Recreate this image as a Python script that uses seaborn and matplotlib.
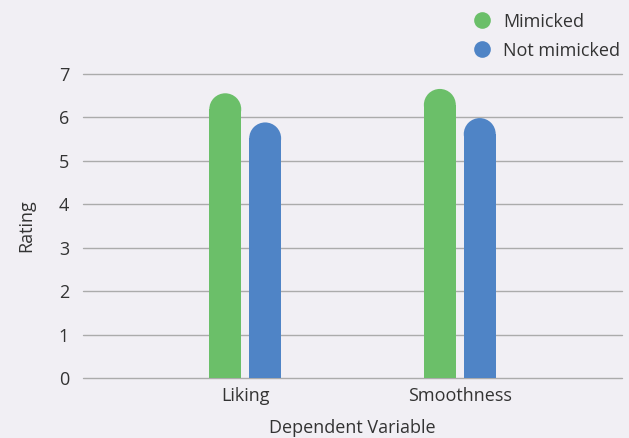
import matplotlib
matplotlib.use("Agg")
import matplotlib.pyplot as plt
from matplotlib.patches import Ellipse
from matplotlib.lines import Line2D
import seaborn as sns
import pandas as pd

# Mean ratings per dependent variable and condition
categories = ["Liking", "Smoothness"]
conditions = ["Mimicked", "Not mimicked"]
mimicked = [6.55, 6.65]
not_mimicked = [5.88, 5.98]
y_ticks = [0, 1, 2, 3, 4, 5, 6, 7]

colors = {"Mimicked": "#6bbf69", "Not mimicked": "#4f84c6"}
bg = "#f1eff4"
text_color = "#333333"
fs = 13

df = pd.DataFrame({
    "Dependent Variable": categories * 2,
    "Condition": [conditions[0]] * 2 + [conditions[1]] * 2,
    "Rating": mimicked + not_mimicked,
})

sns.set_theme(style="white")
plt.rcParams["font.family"] = ["Open Sans", "DejaVu Sans"]

fig = plt.figure(figsize=(6.29, 4.38), dpi=100, facecolor=bg)
ax = fig.add_axes([83 / 629, 1 - 378.3 / 438, (622 - 83) / 629, (378.3 - 73.7) / 438])
ax.set_facecolor(bg)

sns.barplot(data=df, x="Dependent Variable", y="Rating", hue="Condition",
            palette=colors, width=0.372, gap=0.2, ax=ax, legend=False,
            errorbar=None, saturation=1, linewidth=0, zorder=3)

ax.set_ylim(0, 7)
ax.set_xlim(-0.756, 1.756)
ax.set_yticks(y_ticks)
ax.yaxis.grid(True, color="#ababab", linewidth=1)
for gl in ax.get_ygridlines():
    gl.set_clip_on(False)
ax.set_axisbelow(True)
for s in ax.spines.values():
    s.set_visible(False)
ax.tick_params(axis="both", length=0, labelsize=fs, colors=text_color, pad=6)
ax.tick_params(axis="y", pad=10)
ax.set_xlabel("Dependent Variable", fontsize=fs, color=text_color, labelpad=10)
ax.set_ylabel("Rating", fontsize=fs, color=text_color, labelpad=17)

# Round the top of each bar with a semicircular cap
fig.canvas.draw()
px_per_x = ax.transData.transform((1, 0))[0] - ax.transData.transform((0, 0))[0]
px_per_y = ax.transData.transform((0, 1))[1] - ax.transData.transform((0, 0))[1]
for bar in list(ax.patches):
    x, w, h = bar.get_x(), bar.get_width(), bar.get_height()
    r_px = w * px_per_x / 2
    r_y = r_px / px_per_y
    bar.set_height(h - r_y)
    cap = Ellipse((x + w / 2, h - r_y), w, 2 * r_y,
                  facecolor=bar.get_facecolor(), edgecolor="none", zorder=3)
    ax.add_patch(cap)

handles = [Line2D([0], [0], marker="o", linestyle="none", markersize=12,
                  markerfacecolor=colors[c], markeredgecolor="none") for c in conditions]
fig.legend(handles, conditions, loc="upper right", bbox_to_anchor=(1.0, 0.992),
           frameon=False, fontsize=fs, handletextpad=0.15, labelspacing=0.62,
           labelcolor=text_color, borderaxespad=0.1)

fig.savefig("out.png", dpi=100, facecolor=bg)
